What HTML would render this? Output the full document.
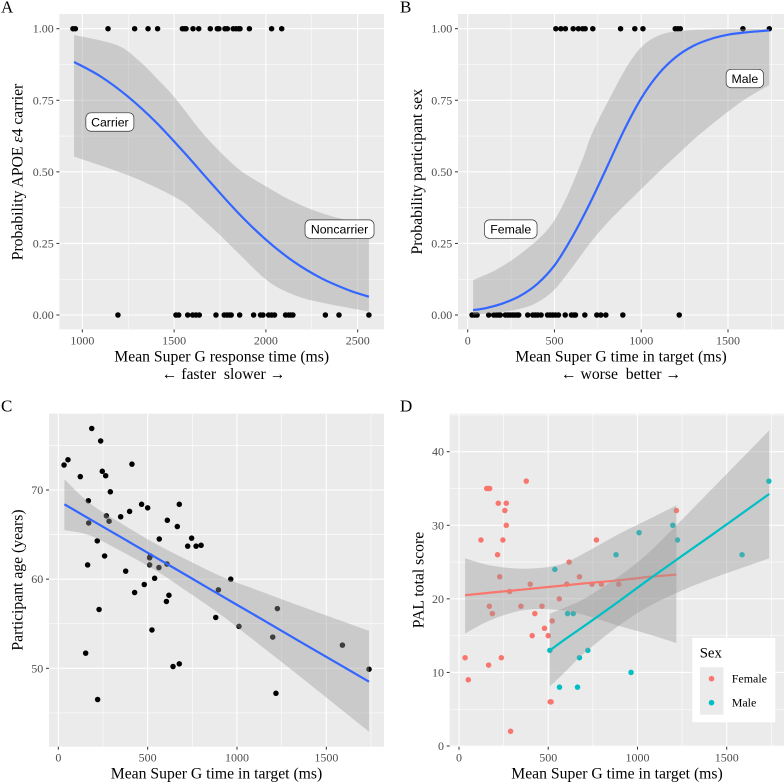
<!DOCTYPE html>
<html lang="en">
<head>
<meta charset="utf-8">
<title>Super G performance panels</title>
<style>
html,body{margin:0;padding:0;background:#fff;width:784px;height:782px;overflow:hidden}
svg{display:block}
text{font-family:"Liberation Serif",serif}
.tag{font-size:17px;fill:#000}
.title{font-size:15.7px;fill:#000;white-space:pre}
.legtitle{font-size:14.8px;fill:#000}
.tick{font-size:12px;fill:#4D4D4D}
.note{font-family:"Liberation Sans",sans-serif;font-size:12.3px;fill:#000}
.leg{font-size:12px;fill:#000}
</style>
</head>
<body>
<svg id="chart" xmlns="http://www.w3.org/2000/svg" width="784" height="782" viewBox="0 0 784 782">
  <rect x="0" y="0" width="784" height="782" fill="#fff"/>
  <g id="panelA"></g>
  <g id="panelB"></g>
  <g id="panelC"></g>
  <g id="panelD"></g>

  <text class="tag" x="1" y="12.5">A</text>
  <text class="tag" x="400" y="12.5">B</text>
  <text class="tag" x="1" y="411.7">C</text>
  <text class="tag" x="400" y="411.7">D</text>

  <text class="title" x="221.7" y="361.7" text-anchor="middle">Mean Super G response time (ms)</text>
  <text class="title" x="223.5" y="379" text-anchor="middle" xml:space="preserve">← faster  slower →</text>
  <text class="title" x="621" y="361.7" text-anchor="middle">Mean Super G time in target (ms)</text>
  <text class="title" x="621" y="379" text-anchor="middle" xml:space="preserve">← worse  better →</text>
  <text class="title" x="216.5" y="778.5" text-anchor="middle">Mean Super G time in target (ms)</text>
  <text class="title" x="617" y="778.5" text-anchor="middle">Mean Super G time in target (ms)</text>

  <text class="title" transform="translate(22.5,172) rotate(-90)" text-anchor="middle">Probability APOE <tspan font-style="italic">ε</tspan>4 carrier</text>
  <text class="title" transform="translate(422,171.7) rotate(-90)" text-anchor="middle">Probability participant sex</text>
  <text class="title" transform="translate(22.5,580) rotate(-90)" text-anchor="middle">Participant age (years)</text>
  <text class="title" transform="translate(423.7,580) rotate(-90)" text-anchor="middle">PAL total score</text>

  <g>
    <rect x="692.3" y="638" width="83" height="84.3" fill="#fff"/>
    <text class="legtitle" x="699.7" y="657.7">Sex</text>
    <rect x="700" y="667.3" width="23.4" height="47.4" fill="#EBEBEB"/>
    <circle cx="711.5" cy="678.7" r="2.8" fill="#F8766D"/>
    <circle cx="711.5" cy="702.7" r="2.8" fill="#00BFC4"/>
    <text class="leg" x="731.7" y="682.7">Female</text>
    <text class="leg" x="731.7" y="706.7">Male</text>
  </g>
</svg>
<script>
// ---------- Panel A data ----------
const aCarrierTimes = [949,962,1140,1285,1358,1410,1545,1556,1565,1603,1634,1697,1735,1744,1777,1790,1822,1837,1851,1859,1910,2031,2086];
const aNoncarrierTimes = [1194,1510,1525,1574,1601,1619,1637,1728,1773,1788,1801,1811,1857,1933,1971,1984,2015,2031,2047,2107,2124,2136,2147,2324,2398,2561];
const aFitTimes = [955,1100,1250,1400,1550,1700,1850,2000,2150,2300,2450,2561];
const aFitProb = [0.884,0.833,0.762,0.674,0.571,0.462,0.356,0.263,0.187,0.129,0.087,0.064];
const aUpperTimes = [955,1187,1314,1423,1514,1641,1732,1859,2004,2131,2276,2440,2561];
const aUpperProb = [0.978,0.943,0.885,0.815,0.751,0.646,0.582,0.506,0.448,0.402,0.362,0.332,0.326];
const aLowerTimes = [955,1172,1332,1532,1641,1750,1859,2004,2131,2276,2561];
const aLowerProb = [0.553,0.506,0.466,0.402,0.343,0.279,0.21,0.122,0.076,0.047,0.012];
const aXTicks = [1000,1500,2000,2500];
const aXMinor = [1250,1750,2250];
const aXLabels = ['1000','1500','2000','2500'];

// ---------- Panel B data ----------
const bMaleTimes = [508,537,563,608,638,663,677,721,881,963,1010,1196,1211,1225,1586,1738];
const bFemaleTimes = [25,40,54,121,150,165,179,188,217,231,244,258,271,285,294,346,375,390,404,423,460,475,490,506,523,562,598,612,621,675,744,767,796,894,1219];
const bFitTimes = [31,100,200,300,400,500,600,700,800,900,1000,1100,1200,1300,1400,1500,1600,1738];
const bFitProb = [0.017,0.0235,0.04,0.066,0.108,0.173,0.27,0.385,0.513,0.644,0.757,0.842,0.901,0.94,0.964,0.979,0.987,0.994];
const bUpperTimes = [31,179,333,467,563,660,717,813,929,1025,1140,1294,1500,1738];
const bUpperProb = [0.122,0.163,0.227,0.303,0.402,0.541,0.635,0.751,0.879,0.949,0.984,0.995,0.998,0.999];
const bLowerTimes = [31,217,371,487,583,717,833,958,1102,1237,1333,1486,1602,1738];
const bLowerProb = [0.001,0.012,0.035,0.081,0.151,0.26,0.34,0.415,0.5,0.576,0.629,0.704,0.755,0.803];
const bXTicks = [0,500,1000,1500];
const bXMinor = [250,750,1250,1750];
const bXLabels = ['0','500','1000','1500'];

const probTicks = [0,0.25,0.5,0.75,1];
const probMinor = [0.125,0.375,0.625,0.875];
const probLabels = ['0.00','0.25','0.50','0.75','1.00'];

// ---------- Panel C data ----------
const cTimes = [32,54,187,237,123,246,265,291,412,168,170,269,284,218,259,164,349,399,466,500,677,565,610,666,746,724,771,799,511,515,511,563,608,377,539,481,965,896,427,619,605,228,881,524,153,677,642,220,1218,1226,1011,1200,1590,1739];
const cAges = [72.8,73.4,76.9,75.5,71.5,72.1,71.6,69.8,72.9,68.8,66.3,67.1,66.5,64.3,62.6,61.6,67.0,67.6,68.4,68.0,68.4,64.5,66.6,65.9,64.6,63.7,63.7,63.8,62.4,62.6,61.6,61.3,61.7,60.9,60.1,59.4,60.0,58.8,58.5,58.2,57.5,56.6,55.7,54.3,51.7,50.5,50.2,46.5,47.2,56.7,54.7,53.5,52.6,49.9];
const cFitTimes = [34,177,364,551,737,924,1110,1352,1739];
const cFitAge = [68.4,66.73,64.55,62.37,60.2,58.0,55.84,53.0,48.5];
const cUpperAge = [71.2,68.5,66.1,63.9,62.0,60.2,58.8,57.0,54.2];
const cLowerAge = [65.5,64.9,63.0,60.9,58.4,55.8,52.9,49.1,42.9];
const cXTicks = [0,500,1000,1500];
const cXMinor = [250,750,1250,1750];
const cXLabels = ['0','500','1000','1500'];
const cYTicks = [50,60,70];
const cYMinor = [45,55,65,75];
const cYLabels = ['50','60','70'];

// ---------- Panel D data ----------
const dFemaleTimes = [123,155,164,172,220,265,257,265,246,216,377,228,284,399,604,675,617,770,745,798,895,1218,170,187,347,465,562,425,410,479,500,522,34,52,166,237,511,516,289];
const dFemaleScores = [28,35,35,35,33,33,32,30,28,26,36,23,21,22,22,23,25,28,22,22,22,32,19,18,19,19,20,18,15,16,15,17,12,9,11,12,6,6,2];
const dMaleTimes = [537,509,563,608,640,664,675,722,880,1009,1198,1224,1586,1736,964];
const dMaleScores = [24,13,8,18,18,8,12,13,26,29,30,28,26,36,10];
const dFemaleFitTimes = [34,185,371,558,701,887,1074,1218];
const dFemaleFit = [20.5,20.86,21.3,21.75,22.1,22.5,23.0,23.3];
const dFemaleUpper = [25.5,24.5,24.1,24.6,26.2,28.7,30.95,32.7];
const dFemaleLower = [15.3,17.2,18.5,18.5,17.8,16.4,15.1,14.0];
const dMaleFitTimes = [509,600,701,887,1050,1218,1400,1738];
const dMaleFit = [13.0,14.6,16.3,19.5,22.4,25.3,28.4,34.25];
const dMaleUpper = [18.0,18.9,20.0,22.9,26.0,30.0,34.5,42.9];
const dMaleLower = [8.1,10.2,12.6,16.2,18.8,20.8,22.6,25.5];
const dXTicks = [0,500,1000,1500];
const dXMinor = [250,750,1250,1750];
const dXLabels = ['0','500','1000','1500'];
const dYTicks = [0,10,20,30,40];
const dYMinor = [5,15,25,35,45];
const dYLabels = ['0','10','20','30','40'];

// ---------- Helpers ----------
const NS = 'http://www.w3.org/2000/svg';
function linearScale(v0, p0, v1, p1) {
  return function (v) { return p0 + (v - v0) * (p1 - p0) / (v1 - v0); };
}
function make(parent, tag, attrs) {
  const el = document.createElementNS(NS, tag);
  for (const k in attrs) el.setAttribute(k, attrs[k]);
  parent.appendChild(el);
  return el;
}
function splineSegments(pts) {
  let d = '';
  for (let i = 0; i < pts.length - 1; i++) {
    const p0 = pts[Math.max(0, i - 1)], p1 = pts[i], p2 = pts[i + 1], p3 = pts[Math.min(pts.length - 1, i + 2)];
    const c1x = p1[0] + (p2[0] - p0[0]) / 6, c1y = p1[1] + (p2[1] - p0[1]) / 6;
    const c2x = p2[0] - (p3[0] - p1[0]) / 6, c2y = p2[1] - (p3[1] - p1[1]) / 6;
    d += 'C' + c1x.toFixed(2) + ' ' + c1y.toFixed(2) + ' ' + c2x.toFixed(2) + ' ' + c2y.toFixed(2) + ' ' + p2[0].toFixed(2) + ' ' + p2[1].toFixed(2);
  }
  return d;
}
function toPoints(xs, ys, sx, sy) {
  return xs.map(function (x, i) { return [sx(x), sy(ys[i])]; });
}
function drawBase(g, box, sx, sy, xTicks, xMinor, xLabels, yTicks, yMinor, yLabels) {
  const bg = make(g, 'rect', { x: box.l, y: box.t, width: box.r - box.l, height: box.b - box.t, fill: '#EBEBEB' });
  
  
  xMinor.forEach(function (v) {
    const el = make(g, 'line', { x1: sx(v), x2: sx(v), y1: box.t, y2: box.b, stroke: '#fff', 'stroke-width': 0.55 });
    
    
  });
  yMinor.forEach(function (v) {
    const el = make(g, 'line', { x1: box.l, x2: box.r, y1: sy(v), y2: sy(v), stroke: '#fff', 'stroke-width': 0.55 });
    
    
  });
  xTicks.forEach(function (v, i) {
    const grid = make(g, 'line', { x1: sx(v), x2: sx(v), y1: box.t, y2: box.b, stroke: '#fff', 'stroke-width': 1.1 });
    
    
    const tick = make(g, 'line', { x1: sx(v), x2: sx(v), y1: box.b, y2: box.b + 3, stroke: '#333', 'stroke-width': 1 });
    
    
    const label = make(g, 'text', { x: sx(v), y: box.b + 15, 'text-anchor': 'middle', class: 'tick' });
    
    
    label.textContent = xLabels[i];
  });
  yTicks.forEach(function (v, i) {
    const grid = make(g, 'line', { x1: box.l, x2: box.r, y1: sy(v), y2: sy(v), stroke: '#fff', 'stroke-width': 1.1 });
    
    
    const tick = make(g, 'line', { x1: box.l - 3, x2: box.l, y1: sy(v), y2: sy(v), stroke: '#333', 'stroke-width': 1 });
    
    
    const label = make(g, 'text', { x: box.l - 5.7, y: sy(v) + 4, 'text-anchor': 'end', class: 'tick' });
    
    
    label.textContent = yLabels[i];
  });
}
function drawPoints(g, xs, ys, sx, sy, color) {
  xs.forEach(function (x, i) {
    const el = make(g, 'circle', { cx: sx(x), cy: sy(ys[i]), r: 2.75, fill: color });
    
    
  });
}
function drawRibbon(g, upX, upY, loX, loY, sx, sy) {
  const up = toPoints(upX, upY, sx, sy);
  const lo = toPoints(loX, loY, sx, sy).reverse();
  const d = 'M' + up[0][0] + ' ' + up[0][1] + splineSegments(up) + 'L' + lo[0][0] + ' ' + lo[0][1] + splineSegments(lo) + 'Z';
  const el = make(g, 'path', { d: d, fill: '#999999', 'fill-opacity': 0.4, stroke: 'none' });
  
  
}
function drawFit(g, xs, ys, sx, sy, color) {
  const pts = toPoints(xs, ys, sx, sy);
  const d = 'M' + pts[0][0] + ' ' + pts[0][1] + splineSegments(pts);
  const el = make(g, 'path', { d: d, fill: 'none', stroke: color, 'stroke-width': 2.2 });
  
  
}
function drawNote(g, cx, cy, w, text) {
  const h = 18.4;
  const box = make(g, 'rect', { x: cx - w / 2, y: cy - h / 2, width: w, height: h, rx: 5, ry: 5, fill: '#fff', stroke: '#333', 'stroke-width': 0.7 });
  
  
  const t = make(g, 'text', { x: cx, y: cy + 4.4, 'text-anchor': 'middle', class: 'note' });
  
  
  t.textContent = text;
}
function repeatValue(arr, v) { return arr.map(function () { return v; }); }

// ---------- Panel A ----------
(function () {
  const g = document.getElementById('panelA');
  const box = { l: 59.4, r: 384, t: 14, b: 329.4 };
  const sx = linearScale(1000, 82.33, 2500, 357.7);
  const sy = linearScale(0, 315, 1, 28.7);
  drawBase(g, box, sx, sy, aXTicks, aXMinor, aXLabels, probTicks, probMinor, probLabels);
  drawPoints(g, aCarrierTimes, repeatValue(aCarrierTimes, 1), sx, sy, '#000');
  drawPoints(g, aNoncarrierTimes, repeatValue(aNoncarrierTimes, 0), sx, sy, '#000');
  drawRibbon(g, aUpperTimes, aUpperProb, aLowerTimes, aLowerProb, sx, sy);
  drawFit(g, aFitTimes, aFitProb, sx, sy, '#3366FF');
  drawNote(g, sx(1150), sy(0.674), 48, 'Carrier');
  drawNote(g, sx(2401), sy(0.30), 69, 'Noncarrier');
})();

// ---------- Panel B ----------
(function () {
  const g = document.getElementById('panelB');
  const box = { l: 458, r: 784, t: 14, b: 329.4 };
  const sx = linearScale(0, 467.7, 1500, 728);
  const sy = linearScale(0, 315, 1, 28.7);
  drawBase(g, box, sx, sy, bXTicks, bXMinor, bXLabels, probTicks, probMinor, probLabels);
  drawPoints(g, bMaleTimes, repeatValue(bMaleTimes, 1), sx, sy, '#000');
  drawPoints(g, bFemaleTimes, repeatValue(bFemaleTimes, 0), sx, sy, '#000');
  drawRibbon(g, bUpperTimes, bUpperProb, bLowerTimes, bLowerProb, sx, sy);
  drawFit(g, bFitTimes, bFitProb, sx, sy, '#3366FF');
  drawNote(g, sx(1597), sy(0.826), 37.4, 'Male');
  drawNote(g, sx(248), sy(0.30), 52.6, 'Female');
})();

// ---------- Panel C ----------
(function () {
  const g = document.getElementById('panelC');
  const box = { l: 49, r: 384, t: 413.7, b: 746.7 };
  const sx = linearScale(0, 58.33, 1500, 326.33);
  const sy = linearScale(50, 668.3, 70, 490);
  drawBase(g, box, sx, sy, cXTicks, cXMinor, cXLabels, cYTicks, cYMinor, cYLabels);
  drawPoints(g, cTimes, cAges, sx, sy, '#000');
  drawRibbon(g, cFitTimes, cUpperAge, cFitTimes, cLowerAge, sx, sy);
  drawFit(g, cFitTimes, cFitAge, sx, sy, '#3366FF');
})();

// ---------- Panel D ----------
(function () {
  const g = document.getElementById('panelD');
  const box = { l: 449.7, r: 784, t: 413.7, b: 746.7 };
  const sx = linearScale(0, 459, 1500, 726.7);
  const sy = linearScale(0, 746, 40, 451.7);
  drawBase(g, box, sx, sy, dXTicks, dXMinor, dXLabels, dYTicks, dYMinor, dYLabels);
  drawPoints(g, dFemaleTimes, dFemaleScores, sx, sy, '#F8766D');
  drawPoints(g, dMaleTimes, dMaleScores, sx, sy, '#00BFC4');
  drawRibbon(g, dFemaleFitTimes, dFemaleUpper, dFemaleFitTimes, dFemaleLower, sx, sy);
  drawFit(g, dFemaleFitTimes, dFemaleFit, sx, sy, '#F8766D');
  drawRibbon(g, dMaleFitTimes, dMaleUpper, dMaleFitTimes, dMaleLower, sx, sy);
  drawFit(g, dMaleFitTimes, dMaleFit, sx, sy, '#00BFC4');
})();
</script>
</body>
</html>
